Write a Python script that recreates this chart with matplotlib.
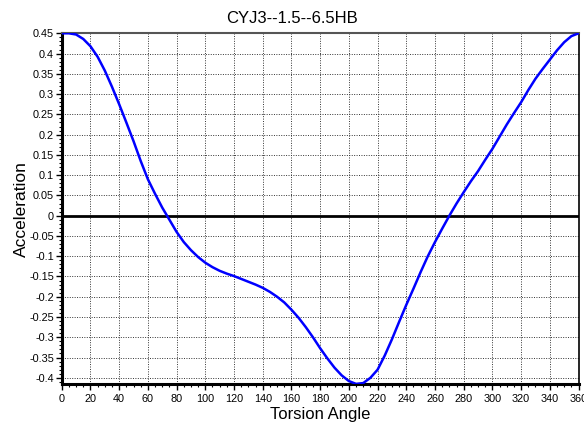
import numpy as np
import matplotlib
matplotlib.use("Agg")
import matplotlib.pyplot as plt
from matplotlib.ticker import MultipleLocator

# DADOS

angulo = list(range(0, 361, 5))
aceleracao = [0.450, 0.450, 0.447, 0.436, 0.418, 0.392, 0.358, 0.318,
              0.275, 0.230, 0.184, 0.135, 0.090, 0.054, 0.020, -0.010,
              -0.040, -0.065, -0.085, -0.102, -0.116, -0.127, -0.136,
              -0.143, -0.149, -0.156, -0.163, -0.170, -0.178, -0.188,
              -0.200, -0.214, -0.232, -0.252, -0.275, -0.300, -0.327,
              -0.352, -0.375, -0.394, -0.408, -0.415, -0.413, -0.400,
              -0.380, -0.345, -0.305, -0.262, -0.220, -0.180, -0.139,
              -0.100, -0.065, -0.032, 0.000, 0.030, 0.058, 0.085, 0.110,
              0.138, 0.165, 0.195, 0.225, 0.253, 0.280, 0.310, 0.338,
              0.362, 0.385, 0.408, 0.428, 0.443, 0.450]

titulo = "CYJ3--1.5--6.5HB"
x_rotulo = "Torsion Angle"
y_rotulo = "Acceleration"

plt.rcParams['font.family'] = ['Liberation Sans', 'DejaVu Sans']

fig = plt.figure(figsize=(5.84, 4.23), dpi=100)
ax = fig.add_axes([0.1057, 0.0915, 0.885, 0.8298])

ax.plot(angulo, aceleracao, color='#0000ff', linewidth=1.8, zorder=3,
        solid_joinstyle='round')
ax.axhline(0, color='black', linewidth=2.0, zorder=2)

ax.set_xlim(0, 360)
ax.set_ylim(-0.416, 0.45)

ax.xaxis.set_minor_locator(MultipleLocator(5))
ax.yaxis.set_minor_locator(MultipleLocator(0.01))

ax.set_xticks(np.arange(0, 361, 20))
ax.set_xticklabels([str(v) for v in range(0, 361, 20)])
yt = np.round(np.arange(-0.4, 0.451, 0.05), 2)
ax.set_yticks(yt)
ax.set_yticklabels([('0' if abs(v) < 1e-9 else f"{v:g}") for v in yt])

ax.grid(True, which='major', color='#333333', linestyle=(0, (1, 1.5)),
        linewidth=0.7)

ax.tick_params(axis='both', which='major', direction='out', length=4,
               width=1.0, labelsize=7.8)
ax.tick_params(axis='x', which='major', pad=3)
ax.tick_params(axis='y', which='major', pad=1.5)
ax.tick_params(axis='both', which='minor', direction='out', length=2.5,
               width=0.8)

ax.spines['left'].set_linewidth(2.2)
ax.spines['bottom'].set_linewidth(2.2)
ax.spines['right'].set_linewidth(1.2)
ax.spines['top'].set_linewidth(1.5)
ax.spines['top'].set_color('#555555')

# título centrado na figura
fig.suptitle(titulo, x=0.5, y=0.956, va='center', fontsize=12)

ax.set_xlabel(x_rotulo, fontsize=12)
ax.xaxis.set_label_coords(0.5, -0.066)
ax.set_ylabel(y_rotulo, fontsize=12.5, labelpad=0)

fig.savefig("out.png", dpi=100)
